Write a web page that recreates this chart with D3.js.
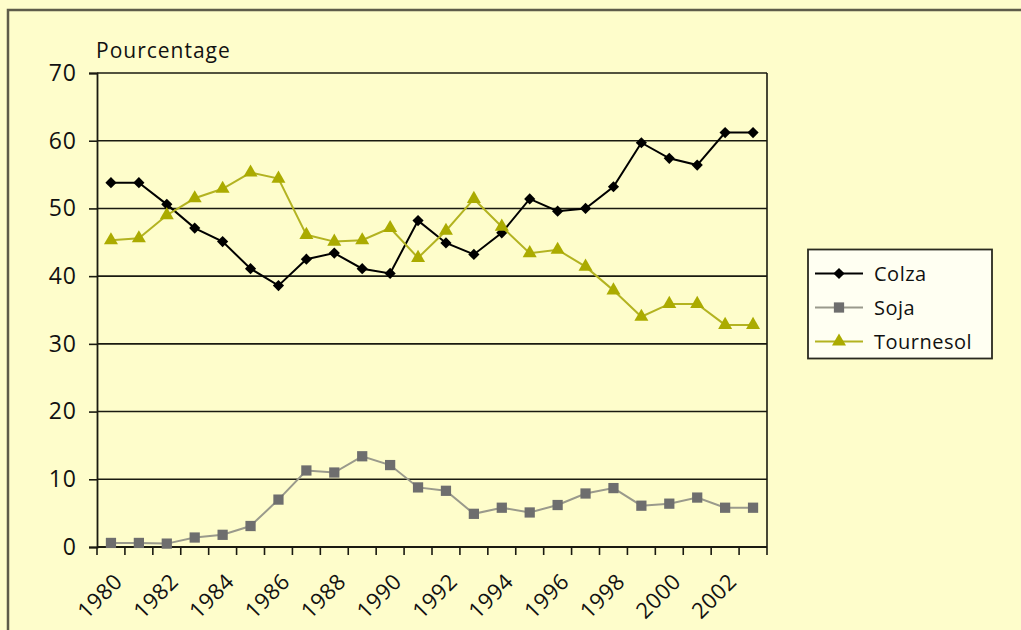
<!DOCTYPE html>
<html>
<head>
<meta charset="utf-8">
<script src="https://cdn.jsdelivr.net/npm/d3@7"></script>
<style>
  body { margin: 0; background: #fefdcb; }
  svg { display: block; }
</style>
</head>
<body>
<script>
// Years on the x axis
const years = d3.range(1980, 2004);

// Share of each oilseed, in percent
const colza = [53.8, 53.8, 50.6, 47.1, 45.1, 41.1, 38.6, 42.5, 43.4, 41.1, 40.4, 48.2,
               44.9, 43.2, 46.4, 51.4, 49.6, 50.0, 53.2, 59.7, 57.4, 56.4, 61.2, 61.2];
const soja = [0.6, 0.6, 0.5, 1.4, 1.8, 3.1, 7.0, 11.3, 11.0, 13.4, 12.1, 8.8,
              8.3, 4.9, 5.8, 5.1, 6.2, 7.9, 8.7, 6.1, 6.4, 7.3, 5.8, 5.8];
const tournesol = [45.3, 45.6, 49.0, 51.5, 52.9, 55.3, 54.4, 46.1, 45.1, 45.3, 47.1, 42.7,
                   46.7, 51.4, 47.3, 43.4, 43.9, 41.4, 37.9, 34.0, 35.9, 35.9, 32.8, 32.8];

const seriesNames = ["Colza", "Soja", "Tournesol"];
const yTicks = [0, 10, 20, 30, 40, 50, 60, 70];
const yearLabels = d3.range(1980, 2003, 2);

const width = 1021, height = 630;
const plotLeft = 97, plotRight = 767, plotTop = 73, plotBottom = 547;
const font = "'Open Sans', sans-serif";

const series = [
  {name: seriesNames[0], values: colza, line: "#000000", fill: "#000000", symbol: d3.symbolDiamond2, size: 80},
  {name: seriesNames[1], values: soja, line: "#9a9a8c", fill: "#6e6e6e", symbol: d3.symbolSquare, size: 105},
  {name: seriesNames[2], values: tournesol, line: "#b3b321", fill: "#abab00", symbol: d3.symbolTriangle, size: 85}
];

let svg = d3.select("body").append("svg")
    .attr("width", width)
    .attr("height", height)
    .style("font-family", font);

// Outer frame (only top and left edges visible)
svg.append("path")
    .attr("d", `M8,${height + 5}V10H${width + 5}`)
    .attr("fill", "none")
    .attr("stroke", "#5e5c4a")
    .attr("stroke-width", 2.5);

let x = d3.scaleBand()
    .domain(years)
    .range([plotLeft, plotRight]);

let y = d3.scaleLinear()
    .domain([0, 70])
    .range([plotBottom, plotTop]);

// Horizontal gridlines
svg.append("g")
  .selectAll("line")
  .data(yTicks.slice(1))
  .join("line")
    .attr("x1", plotLeft)
    .attr("x2", plotRight)
    .attr("y1", d => y(d))
    .attr("y2", d => y(d))
    .attr("stroke", "#1a1a10")
    .attr("stroke-width", 1.6);

// Right border of the plot
svg.append("line")
    .attr("x1", plotRight).attr("x2", plotRight)
    .attr("y1", plotTop).attr("y2", plotBottom)
    .attr("stroke", "#1a1a10")
    .attr("stroke-width", 1.6);

// Y axis
svg.append("g")
    .attr("transform", `translate(${plotLeft},0)`)
    .call(d3.axisLeft(y).tickValues(yTicks).tickSize(8).tickPadding(12))
    .call(g => g.select(".domain").attr("stroke", "#1a1a10").attr("stroke-width", 1.8))
    .call(g => g.selectAll(".tick line").attr("stroke", "#1a1a10").attr("stroke-width", 1.6))
    .call(g => g.selectAll("text")
        .attr("font-family", font)
        .attr("font-size", 23)
        .attr("letter-spacing", 1)
        .attr("fill", "#111"));

// X axis, with ticks on category boundaries
svg.append("g")
    .attr("transform", `translate(0,${plotBottom})`)
    .call(g => g.append("line")
        .attr("x1", plotLeft).attr("x2", plotRight)
        .attr("stroke", "#1a1a10").attr("stroke-width", 1.8))
    .call(g => g.selectAll(".tk")
      .data(years.concat([2004]))
      .join("line")
        .attr("class", "tk")
        .attr("x1", d => d < 2004 ? x(d) : plotRight)
        .attr("x2", d => d < 2004 ? x(d) : plotRight)
        .attr("y2", 8)
        .attr("stroke", "#1a1a10")
        .attr("stroke-width", 1.6))
    .call(g => g.selectAll("text")
      .data(yearLabels)
      .join("text")
        .attr("transform", d => `translate(${x(d) + x.bandwidth() / 2 + 2},${25}) rotate(-45)`)
        .attr("text-anchor", "end")
        .attr("dy", "0.7em")
        .attr("font-size", 22)
        .attr("letter-spacing", 0.5)
        .attr("fill", "#111")
        .text(d => d));

// Axis title
svg.append("text")
    .attr("x", 96)
    .attr("y", 58)
    .attr("font-size", 21)
    .attr("letter-spacing", 1)
    .attr("fill", "#111")
    .text("Pourcentage");

let line = d3.line()
    .x((d, i) => x(years[i]) + x.bandwidth() / 2)
    .y(d => y(d));

// Draw the lines and markers
series.forEach(s => {
  let g = svg.append("g");
  g.append("path")
      .attr("d", line(s.values))
      .attr("fill", "none")
      .attr("stroke", s.line)
      .attr("stroke-width", 2);
  g.selectAll("path.m")
    .data(s.values)
    .join("path")
      .attr("class", "m")
      .attr("transform", (d, i) => `translate(${x(years[i]) + x.bandwidth() / 2},${y(d)})`)
      .attr("d", d3.symbol().type(s.symbol).size(s.size))
      .attr("fill", s.fill);
});

// Legend
let legend = svg.append("g");
legend.append("rect")
    .attr("x", 808)
    .attr("y", 249.5)
    .attr("width", 184)
    .attr("height", 109)
    .attr("fill", "#fffff2")
    .attr("stroke", "#2a2a20")
    .attr("stroke-width", 1.8);

legend.selectAll("g")
  .data(series)
  .join("g")
    .attr("transform", (d, i) => `translate(0,${273.5 + i * 34})`)
    .call(g => g.append("line")
        .attr("x1", 815).attr("x2", 863)
        .attr("stroke", d => d.line)
        .attr("stroke-width", 2))
    .call(g => g.append("path")
        .attr("transform", "translate(839,0)")
        .attr("d", d => d3.symbol().type(d.symbol).size(d.size)())
        .attr("fill", d => d.fill))
    .call(g => g.append("text")
        .attr("x", 874)
        .attr("dy", "0.35em")
        .attr("font-size", 20)
        .attr("letter-spacing", 0.5)
        .attr("fill", "#111")
        .text(d => d.name));
</script>
</body>
</html>
